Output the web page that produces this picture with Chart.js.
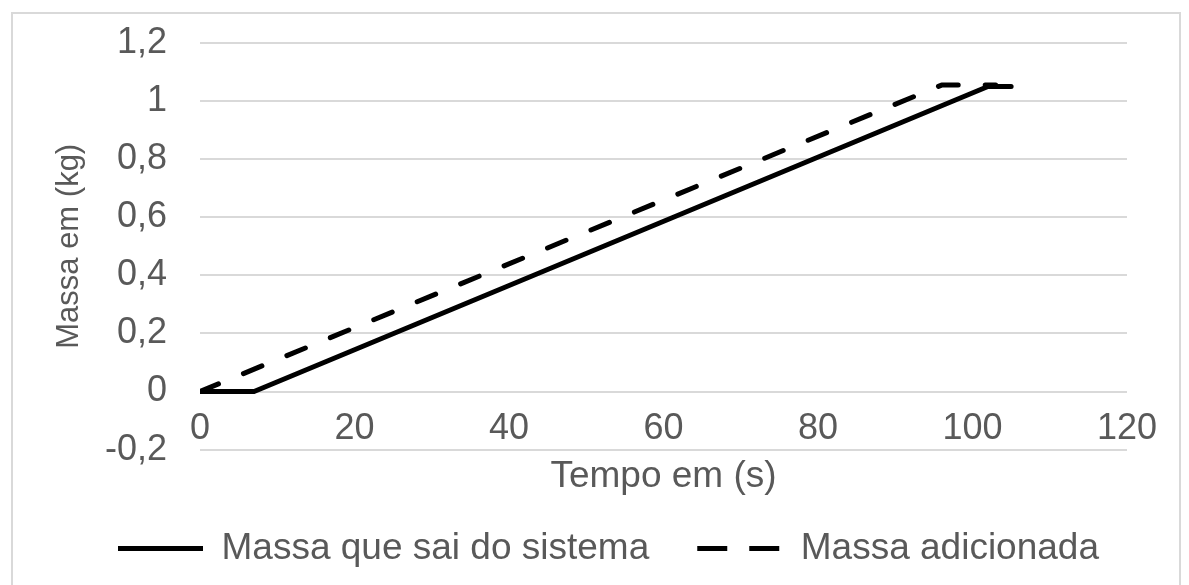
<!DOCTYPE html>
<html>
<head>
<meta charset="utf-8">
<title>Massa x Tempo</title>
<script src="https://cdn.jsdelivr.net/npm/chart.js@4.4.0/dist/chart.umd.min.js"></script>
<style>
  html, body { margin: 0; padding: 0; background: #fff; }
</style>
</head>
<body>
<canvas id="massaChart" width="1189" height="585"></canvas>
<script>
// tempo (s) e massa (kg) de cada curva
const tempoSaida = [0, 7, 102, 105];
const massaSaida = [0, 0, 1.05, 1.05];
const tempoAdicionada = [0, 96, 103];
const massaAdicionada = [0, 1.055, 1.055];

const nomesSeries = ['Massa que sai do sistema', 'Massa adicionada'];
const xTickLabels = ['0', '20', '40', '60', '80', '100', '120'];
const yTickLabels = ['-0,2', '0', '0,2', '0,4', '0,6', '0,8', '1', '1,2'];

const toPoints = (xs, ys) => xs.map((x, i) => ({ x: x, y: ys[i] }));

const cinza = '#595959';
Chart.defaults.font.family = "'Liberation Sans', Arial, sans-serif";
Chart.defaults.color = cinza;

// moldura cinza em volta do grafico
const moldura = {
  id: 'moldura',
  beforeDraw(chart) {
    const ctx = chart.ctx;
    ctx.save();
    ctx.fillStyle = '#ffffff';
    ctx.fillRect(0, 0, chart.width, chart.height);
    ctx.strokeStyle = '#d9d9d9';
    ctx.lineWidth = 2;
    ctx.strokeRect(12, 13, 1168, 620);
    ctx.restore();
  }
};

// legenda com o mesmo traco das linhas
function legendaItens(chart) {
  const items = Chart.defaults.plugins.legend.labels.generateLabels(chart);
  items.forEach((item) => {
    const ds = chart.data.datasets[item.datasetIndex];
    item.lineDash = ds.borderDash ? [30, 22] : [];
    item.lineWidth = ds.borderWidth;
    item.strokeStyle = ds.borderColor;
    item.lineCap = 'butt';
  });
  return items;
}

const ctx = document.getElementById('massaChart').getContext('2d');
new Chart(ctx, {
  type: 'line',
  data: {
    datasets: [
      {
        label: nomesSeries[0],
        data: toPoints(tempoSaida, massaSaida),
        borderColor: '#000000',
        backgroundColor: '#000000',
        borderWidth: 5,
        pointRadius: 0,
        tension: 0,
        borderJoinStyle: 'round',
        borderCapStyle: 'round'
      },
      {
        label: nomesSeries[1],
        data: toPoints(tempoAdicionada, massaAdicionada),
        borderColor: '#000000',
        backgroundColor: '#000000',
        borderWidth: 5,
        borderDash: [20, 27],
        pointRadius: 0,
        tension: 0,
        borderJoinStyle: 'round',
        borderCapStyle: 'round'
      }
    ]
  },
  options: {
    responsive: false,
    animation: false,
    devicePixelRatio: 1,
    layout: { padding: { left: 28, right: 0, top: 43, bottom: 8 } },
    scales: {
      x: {
        type: 'linear',
        position: { y: 0 },
        min: 0,
        max: 120,
        grid: { display: false, drawTicks: false },
        border: { display: false },
        ticks: {
          stepSize: 20,
          padding: 16,
          font: { size: 36 },
          color: cinza,
          callback: (value, index) => xTickLabels[index]
        },
        title: {
          display: true,
          text: 'Tempo em (s)',
          font: { size: 37 },
          color: cinza,
          padding: { top: -12, bottom: 4 }
        },
        // reserva a margem direita do eixo
        afterFit: (scale) => { scale.paddingRight = 62; }
      },
      y: {
        min: -0.2,
        max: 1.2,
        grid: { color: '#d9d9d9', lineWidth: 2, drawTicks: false },
        border: { display: false },
        ticks: {
          stepSize: 0.2,
          padding: 33,
          font: { size: 36 },
          color: cinza,
          callback: (value, index) => yTickLabels[index]
        },
        title: {
          display: true,
          text: 'Massa em (kg)',
          font: { size: 31 },
          color: cinza,
          padding: { top: 23, bottom: 0 }
        },
        afterFit: (scale) => {
          scale.width = 172;
          scale.paddingTop = 22;
          scale.paddingBottom = 22;
        }
      }
    },
    plugins: {
      legend: {
        position: 'bottom',
        title: { display: true, text: '', padding: { top: 18, bottom: 0 } },
        labels: {
          usePointStyle: true,
          pointStyle: 'line',
          pointStyleWidth: 85,
          padding: 48,
          color: cinza,
          font: { size: 37 },
          generateLabels: legendaItens
        }
      },
      tooltip: { enabled: false }
    }
  },
  plugins: [moldura]
});
</script>
</body>
</html>
